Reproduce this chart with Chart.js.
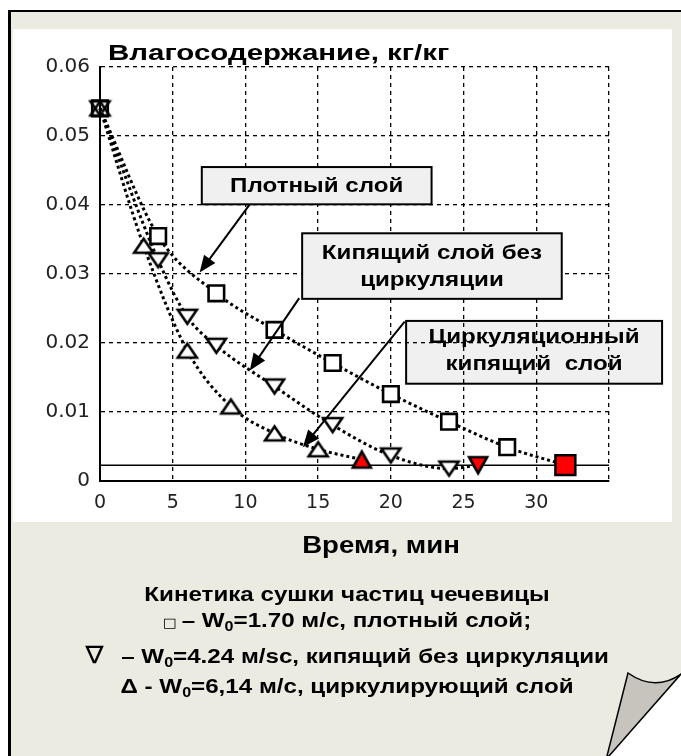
<!DOCTYPE html>
<html>
<head>
<meta charset="utf-8">
<script src="https://cdn.jsdelivr.net/npm/chart.js@4.4.0/dist/chart.umd.min.js"></script>
<style>
  html, body { margin: 0; padding: 0; background: #fff; }
  canvas { display: block; }
</style>
</head>
<body>
<canvas id="myChart" width="681" height="756"></canvas>
<script>
// время, мин / влагосодержание, кг/кг
const denseX = [0, 4, 8, 12, 16, 20, 24, 28, 32];
const denseY = [0.054, 0.0355, 0.0272, 0.0219, 0.0171, 0.0126, 0.0086, 0.0049, 0.0023];
const boilX = [0, 4, 6, 8, 12, 16, 20, 24, 26];
const boilY = [0.054, 0.032, 0.0238, 0.0196, 0.0137, 0.0081, 0.0037, 0.0018, 0.0023];
const circX = [0, 3, 6, 9, 12, 15, 18];
const circY = [0.054, 0.0341, 0.0189, 0.0108, 0.0069, 0.0046, 0.0031];
const equilX = [0, 35];
const equilY = [0.0023, 0.0023];

const xTicks = [0, 5, 10, 15, 20, 25, 30];
const yTicks = [0, 0.01, 0.02, 0.03, 0.04, 0.05, 0.06];
const yTickLabels = ['0', '0.01', '0.02', '0.03', '0.04', '0.05', '0.06'];

const FONT = '"Liberation Sans", Arial, sans-serif';
const BEIGE = '#ecebe1';
const STRETCH = 1.15;

function pts(xs, ys) {
  return xs.map((x, i) => ({ x: x, y: ys[i] }));
}

// triangle marker images: wider than tall like in the original
function triangle(w, h, down, fill) {
  const c = document.createElement('canvas');
  c.width = Math.ceil(w) + 6;
  c.height = Math.ceil(h) + 6;
  const g = c.getContext('2d');
  const x0 = 3, y0 = 3;
  g.beginPath();
  if (down) {
    g.moveTo(x0, y0); g.lineTo(x0 + w, y0); g.lineTo(x0 + w / 2, y0 + h);
  } else {
    g.moveTo(x0, y0 + h); g.lineTo(x0 + w, y0 + h); g.lineTo(x0 + w / 2, y0);
  }
  g.closePath();
  if (fill) { g.fillStyle = fill; g.fill(); }
  g.lineWidth = 2.6;
  g.lineJoin = 'miter';
  g.strokeStyle = '#000';
  g.stroke();
  return c;
}

function triStyles(n, down) {
  const first = triangle(19, 14, down, null);
  const open = triangle(19, 14, down, '#fff');
  const red = triangle(18, 16, down, '#ff0000');
  return Array.from({ length: n }, (_, i) => i === 0 ? first : (i === n - 1 ? red : open));
}

function curve(xs, ys) {
  return {
    data: pts(xs, ys),
    order: 2,
    borderColor: '#000',
    borderWidth: 3,
    borderDash: [3, 3],
    cubicInterpolationMode: 'monotone',
    pointRadius: 0,
    fill: false
  };
}

function squareMarkers(xs, ys) {
  const n = xs.length;
  return {
    data: pts(xs, ys),
    order: 1,
    showLine: false,
    pointStyle: 'rect',
    pointBorderColor: '#000',
    pointBorderWidth: 2.6,
    pointRadius: xs.map((_, i) => i === n - 1 ? 14 : 11),
    pointBackgroundColor: xs.map((_, i) => i === 0 ? 'rgba(0,0,0,0)' : (i === n - 1 ? '#ff0000' : '#fff'))
  };
}

function triMarkers(xs, ys, down) {
  return {
    data: pts(xs, ys),
    order: 1,
    showLine: false,
    pointStyle: triStyles(xs.length, down),
    pointRadius: 10
  };
}

// annotation boxes, in data units
const boxes = [
  { x0: 7.0, x1: 22.8, y0: 0.0455, y1: 0.0401, lines: ['Плотный слой'], dy: 0 },
  { x0: 13.9, x1: 31.75, y0: 0.0359, y1: 0.0264, lines: ['Кипящий слой без', 'циркуляции'], dy: 0 },
  { x0: 21.05, x1: 38.65, y0: 0.0232, y1: 0.0141, lines: ['Циркуляционный', 'кипящий  слой'], dy: -3 }
];
const arrows = [
  { from: [10.3, 0.0401], to: [6.85, 0.0302] },
  { from: [13.7, 0.0265], to: [10.3, 0.0160] },
  { from: [20.95, 0.0231], to: [13.95, 0.0049] }
];

function wideText(ctx, s, x, y, sx) {
  ctx.save();
  ctx.translate(x, y);
  ctx.scale(sx, 1);
  ctx.fillText(s, 0, 0);
  ctx.restore();
}

function drawBox(chart, b) {
  const ctx = chart.ctx;
  const sx = chart.scales.x, sy = chart.scales.y;
  const l = sx.getPixelForValue(b.x0), r = sx.getPixelForValue(b.x1);
  const t = sy.getPixelForValue(b.y0), btm = sy.getPixelForValue(b.y1);
  ctx.save();
  ctx.fillStyle = '#f0f0f0';
  ctx.fillRect(l, t, r - l, btm - t);
  ctx.strokeStyle = '#000';
  ctx.lineWidth = 2;
  ctx.strokeRect(l, t, r - l, btm - t);
  ctx.fillStyle = '#000';
  ctx.font = 'bold 21px ' + FONT;
  ctx.textAlign = 'center';
  ctx.textBaseline = 'middle';
  const lh = 27;
  const cy = (t + btm) / 2 + b.dy - (b.lines.length - 1) * lh / 2;
  b.lines.forEach((s, i) => wideText(ctx, s, (l + r) / 2, cy + i * lh + 1, STRETCH));
  ctx.restore();
}

function drawArrow(chart, a) {
  const ctx = chart.ctx;
  const sx = chart.scales.x, sy = chart.scales.y;
  const x0 = sx.getPixelForValue(a.from[0]), y0 = sy.getPixelForValue(a.from[1]);
  const x1 = sx.getPixelForValue(a.to[0]), y1 = sy.getPixelForValue(a.to[1]);
  const ang = Math.atan2(y1 - y0, x1 - x0);
  const len = 17, half = 7;
  ctx.save();
  ctx.strokeStyle = '#000';
  ctx.fillStyle = '#000';
  ctx.lineWidth = 2;
  ctx.beginPath();
  ctx.moveTo(x0, y0);
  ctx.lineTo(x1 - Math.cos(ang) * len * 0.8, y1 - Math.sin(ang) * len * 0.8);
  ctx.stroke();
  ctx.beginPath();
  ctx.moveTo(x1, y1);
  ctx.lineTo(x1 - Math.cos(ang) * len - Math.sin(ang) * half, y1 - Math.sin(ang) * len + Math.cos(ang) * half);
  ctx.lineTo(x1 - Math.cos(ang) * len + Math.sin(ang) * half, y1 - Math.sin(ang) * len - Math.cos(ang) * half);
  ctx.closePath();
  ctx.fill();
  ctx.restore();
}

// text line made of pieces, some of them subscript
function drawRich(ctx, parts, cx, y, sx) {
  let total = 0;
  parts.forEach(p => { ctx.font = p.font; p.w = ctx.measureText(p.t).width * sx; total += p.w; });
  let x = cx - total / 2;
  parts.forEach(p => {
    ctx.font = p.font;
    wideText(ctx, p.t, x, y + (p.dy || 0), sx);
    x += p.w;
  });
}

const B = 'bold 21px ' + FONT;
const SUB = 'bold 14px ' + FONT;
const captionLines = [
  { y: 601, parts: [{ t: 'Кинетика сушки частиц чечевицы', font: B }] },
  { y: 627, parts: [{ t: '□ ', font: '13px "DejaVu Sans"' }, { t: '– W', font: B }, { t: '0', font: SUB, dy: 4 }, { t: '=1.70 м/с, плотный слой;', font: B }] },
  { y: 663, parts: [{ t: '∇  ', font: '24px "DejaVu Sans"' }, { t: '– W', font: B }, { t: '0', font: SUB, dy: 4 }, { t: '=4.24 м/sc, кипящий без циркуляции', font: B }] },
  { y: 693, parts: [{ t: 'Δ - W', font: B }, { t: '0', font: SUB, dy: 4 }, { t: '=6,14 м/с, циркулирующий слой', font: B }] }
];

const decor = {
  id: 'decor',
  beforeDraw(chart) {
    const { ctx, width, height } = chart;
    ctx.save();
    ctx.fillStyle = '#fff';
    ctx.fillRect(0, 0, width, height);
    ctx.fillStyle = BEIGE;
    ctx.fillRect(10, 11, width - 10, height - 11);
    ctx.fillStyle = '#000';
    ctx.fillRect(8, 10, 3, height - 10);
    ctx.fillRect(8, 10, width - 8, 2);
    ctx.fillStyle = '#fff';
    ctx.fillRect(13, 29, 659, 493);
    ctx.restore();
    drawBox(chart, boxes[2]);
  },
  afterDatasetsDraw(chart) {
    drawBox(chart, boxes[0]);
    drawBox(chart, boxes[1]);
    arrows.forEach(a => drawArrow(chart, a));
  },
  afterDraw(chart) {
    const ctx = chart.ctx;
    const area = chart.chartArea;
    ctx.save();
    ctx.fillStyle = '#000';
    ctx.textBaseline = 'alphabetic';
    ctx.textAlign = 'left';
    ctx.font = 'bold 22px ' + FONT;
    wideText(ctx, 'Влагосодержание, кг/кг', area.left + 8, 60, 1.34);
    ctx.textAlign = 'center';
    ctx.font = 'bold 23px ' + FONT;
    wideText(ctx, 'Время, мин', 381, 553, 1.2);
    ctx.textAlign = 'left';
    captionLines.forEach(l => drawRich(ctx, l.parts, 347, l.y, STRETCH));

    // page curl
    ctx.fillStyle = '#fff';
    ctx.beginPath();
    ctx.moveTo(681, 675);
    ctx.lineTo(681, 756);
    ctx.lineTo(609, 756);
    ctx.closePath();
    ctx.fill();
    ctx.fillStyle = '#c6c4bc';
    ctx.strokeStyle = '#000';
    ctx.lineWidth = 1.5;
    ctx.beginPath();
    ctx.moveTo(628, 673);
    ctx.quadraticCurveTo(655, 692, 681, 674);
    ctx.lineTo(609, 756);
    ctx.lineTo(607, 756);
    ctx.closePath();
    ctx.fill();
    ctx.stroke();
    ctx.restore();
  }
};

const tickFont = { family: '"DejaVu Sans", sans-serif', size: 19 };

new Chart('myChart', {
  type: 'line',
  data: {
    datasets: [
      { data: pts(equilX, equilY), order: 3, borderColor: '#000', borderWidth: 1.5, pointRadius: 0, fill: false },
      curve(denseX, denseY),
      curve(boilX, boilY),
      curve(circX, circY),
      squareMarkers(denseX, denseY),
      triMarkers(boilX, boilY, true),
      triMarkers(circX, circY, false)
    ]
  },
  options: {
    responsive: false,
    animation: false,
    devicePixelRatio: 1,
    clip: false,
    layout: { padding: { left: 40, top: 67, right: 72, bottom: 235 } },
    plugins: {
      legend: { display: false },
      tooltip: { enabled: false }
    },
    scales: {
      x: {
        type: 'linear',
        min: 0,
        max: 35,
        afterFit: s => { s.height = 40; },
        ticks: {
          stepSize: 5,
          font: tickFont,
          color: '#222',
          padding: 11,
          maxRotation: 0,
          callback: v => xTicks.includes(v) ? String(v) : ''
        },
        grid: { color: '#000', lineWidth: 1.3, drawTicks: false },
        border: { display: true, color: '#000', width: 2, dash: [4, 4] }
      },
      y: {
        min: 0,
        max: 0.06,
        afterFit: s => { s.width = 60; },
        ticks: {
          stepSize: 0.01,
          font: { family: '"DejaVu Sans", sans-serif', size: 20 },
          color: '#222',
          padding: 10,
          callback: v => {
            const i = yTicks.findIndex(t => Math.abs(t - v) < 1e-9);
            return i >= 0 ? yTickLabels[i] : '';
          }
        },
        grid: { color: '#000', lineWidth: 1.3, drawTicks: false },
        border: { display: true, color: '#000', width: 2, dash: [4, 4] }
      }
    }
  },
  plugins: [decor]
});
</script>
</body>
</html>
